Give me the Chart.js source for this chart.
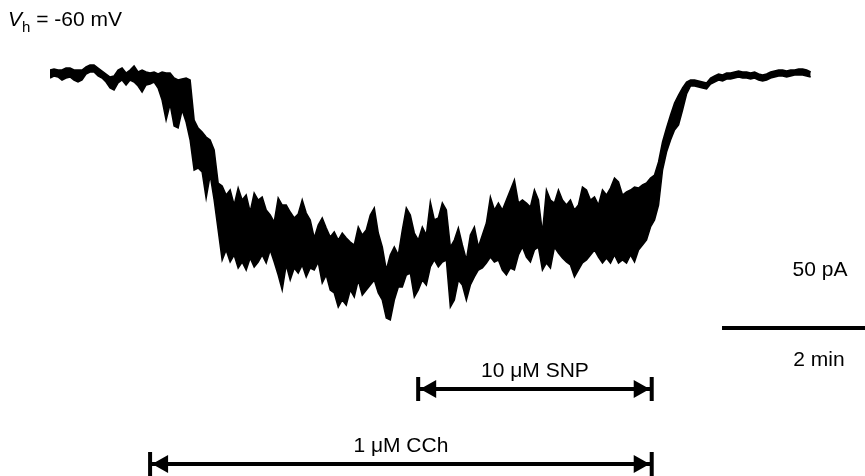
<!DOCTYPE html>
<html>
<head>
<meta charset="utf-8">
<script src="https://cdn.jsdelivr.net/npm/chart.js@4/dist/chart.umd.min.js"></script>
<style>
  body { margin: 0; background: #fff; }
  #wrap { width: 865px; height: 476px; }
</style>
</head>
<body>
<div id="wrap"><canvas id="trace" width="865" height="476"></canvas></div>
<script>
// whole-cell current at Vh = -60 mV, min/max envelope per sample (pA)
const sampleInterval = 3.36; // s
const currentMax = [
  1, 1.5, 1, 1, 2, 2, 1, 1, 1, 2.5, 3.5, 3.5, 2, 0.5, -1, -2.5, -2, 1, 2, -0.5,
  1, 3, 0, 1, 0, -0.5, 0, -1, 0, -0.5, -0.5, -3, -4, -3.5, -3, -4, -24, -28, -30, -32.5,
  -34, -39, -55.5, -57, -61.5, -59, -66.5, -58, -64, -61.5, -70, -60.5, -64, -62.5, -69, -71.5, -75, -63, -66.5, -66.5,
  -70, -73, -71, -64, -70.5, -74, -83, -76.5, -73, -78, -82.5, -80, -84, -80.5, -83, -85, -86.5, -77.5, -81.5, -79,
  -71.5, -68, -80.5, -87.5, -99, -91.5, -87.5, -91.5, -79, -68, -71.5, -80.5, -84, -77.5, -81.5, -65, -74, -73, -65.5, -69,
  -87.5, -84, -78, -86.5, -94, -81.5, -77.5, -87.5, -81.5, -75.5, -62.5, -69, -65.5, -69, -64, -59, -54, -65.5, -64, -65.5,
  -67.5, -59, -64, -80.5, -59, -64, -65.5, -59, -64, -66.5, -64, -69, -66.5, -57.5, -59, -64, -62.5, -66.5, -59, -61.5,
  -58, -53, -55, -61.5, -60, -59, -57.5, -58, -56.5, -55.5, -53, -51.5, -45, -35, -28, -21.5, -15.5, -11.5, -8, -5,
  -4, -4, -4.5, -5, -5.5, -3, -2, -1, -1.5, -0.5, -0.5, 0, 0.5, 0, 0, -0.5, 0, -1, -1.5, -1,
  0, 0.5, 1, 1, 0.5, 1, 1, 1.5, 1.5, 1, 0
];
const currentMin = [
  -3, -2, -2.5, -4, -3, -2.5, -4, -5, -4, -1, 0, 0, -2, -3, -5, -8, -9, -5.5, -4, -6.5,
  -4, -5, -7, -10, -6.5, -6, -5, -8, -14, -24, -16, -27, -28, -19, -25, -34, -49, -48, -50, -63,
  -51.5, -64, -79, -94, -89, -95, -91.5, -98, -95, -99, -93, -97.5, -95, -91.5, -95.5, -89, -95, -101.5, -109, -96.5,
  -104, -98, -100.5, -96.5, -102.5, -98, -99, -95, -105.5, -101.5, -109, -110.5, -117.5, -114, -116.5, -109, -112.5, -104, -111.5, -109,
  -106.5, -104, -110.5, -114, -123, -124, -114, -107.5, -107.5, -101.5, -100.5, -112.5, -109, -104, -106.5, -97.5, -94, -97.5, -95, -94,
  -117.5, -114, -104, -106.5, -114, -106.5, -102.5, -99, -98, -95.5, -92.5, -95, -94, -99, -101.5, -98, -99, -91.5, -87.5, -92.5,
  -95, -89, -87.5, -99, -95.5, -98, -87.5, -90.5, -93, -95, -96.5, -102.5, -99, -95.5, -94, -91.5, -89, -92.5, -95.5, -93,
  -95.5, -91.5, -95.5, -94, -95.5, -91.5, -95, -89, -86.5, -84, -77.5, -74, -66.5, -49, -40, -34, -29, -26.5, -19, -11,
  -7, -7, -7.5, -8, -8.5, -6, -5, -4, -4.5, -3.5, -3.5, -3, -2.5, -3, -3, -3.5, -3, -4, -4.5, -4,
  -3, -2.5, -2, -2, -2.5, -2, -1.5, -1.5, -1.5, -2, -2.5
];

// drug applications (s from start of trace)
const drugLabels = ["10 \u03BCM SNP", "1 \u03BCM CCh"];
const drugStart = [309, 84];
const drugEnd = [505, 505];

// calibration
const timeBarSeconds = 120;
const timeBarLabel = "2 min";
const currentBarLabel = "50 pA";
const holdingLabel = " = -60 mV";

const FONT = '"Liberation Sans", Arial, sans-serif';

function drawRangeArrow(ctx, x1, x2, y, label) {
  ctx.save();
  ctx.strokeStyle = "#000";
  ctx.fillStyle = "#000";
  ctx.lineWidth = 4;
  ctx.beginPath();
  ctx.moveTo(x1, y);
  ctx.lineTo(x2, y);
  ctx.moveTo(x1, y - 12);
  ctx.lineTo(x1, y + 12);
  ctx.moveTo(x2, y - 12);
  ctx.lineTo(x2, y + 12);
  ctx.stroke();
  // heads
  ctx.beginPath();
  ctx.moveTo(x1 + 2, y);
  ctx.lineTo(x1 + 18, y - 9);
  ctx.lineTo(x1 + 18, y + 9);
  ctx.closePath();
  ctx.moveTo(x2 - 2, y);
  ctx.lineTo(x2 - 18, y - 9);
  ctx.lineTo(x2 - 18, y + 9);
  ctx.closePath();
  ctx.fill();
  ctx.font = "21px " + FONT;
  ctx.textAlign = "center";
  ctx.textBaseline = "alphabetic";
  ctx.fillText(label, (x1 + x2) / 2, y - 12);
  ctx.restore();
}

const annotations = {
  id: "annotations",
  afterDraw(chart) {
    const ctx = chart.ctx;
    const x = chart.scales.x;

    // drug bars
    const rows = [389, 464];
    drugLabels.forEach((lab, i) => {
      drawRangeArrow(ctx, x.getPixelForValue(drugStart[i]), x.getPixelForValue(drugEnd[i]), rows[i], lab);
    });

    // time calibration bar, right aligned to the axis end
    const tEnd = x.max;
    const bx1 = x.getPixelForValue(tEnd - timeBarSeconds);
    const bx2 = x.getPixelForValue(tEnd);
    ctx.save();
    ctx.strokeStyle = "#000";
    ctx.lineWidth = 4;
    ctx.beginPath();
    ctx.moveTo(bx1, 328);
    ctx.lineTo(bx2, 328);
    ctx.stroke();
    ctx.fillStyle = "#000";
    ctx.font = "21px " + FONT;
    ctx.textAlign = "center";
    ctx.fillText(timeBarLabel, 819, 366);
    ctx.fillText(currentBarLabel, 820, 276);

    // holding potential
    ctx.textAlign = "left";
    ctx.font = "italic 21px " + FONT;
    ctx.fillText("V", 8, 26);
    let w = ctx.measureText("V").width;
    ctx.font = "15px " + FONT;
    ctx.fillText("h", 8 + w, 32);
    w += ctx.measureText("h").width;
    ctx.font = "21px " + FONT;
    ctx.fillText(holdingLabel, 8 + w, 26);
    ctx.restore();
  }
};

const toPoints = arr => arr.map((v, i) => ({ x: i * sampleInterval, y: v }));

new Chart(document.getElementById("trace"), {
  type: "line",
  data: {
    datasets: [
      {
        label: "max",
        data: toPoints(currentMax),
        borderColor: "#000",
        borderWidth: 1.5,
        pointRadius: 0,
        fill: false
      },
      {
        label: "min",
        data: toPoints(currentMin),
        borderColor: "#000",
        backgroundColor: "#000",
        borderWidth: 1.5,
        pointRadius: 0,
        fill: "-1"
      }
    ]
  },
  options: {
    responsive: false,
    animation: false,
    layout: { padding: { left: 50, right: 0, top: 0, bottom: 0 } },
    plugins: {
      legend: { display: false },
      tooltip: { enabled: false }
    },
    scales: {
      x: { type: "linear", min: 0, max: 684, display: false },
      y: { min: -202, max: 36, display: false }
    }
  },
  plugins: [annotations]
});
</script>
</body>
</html>
